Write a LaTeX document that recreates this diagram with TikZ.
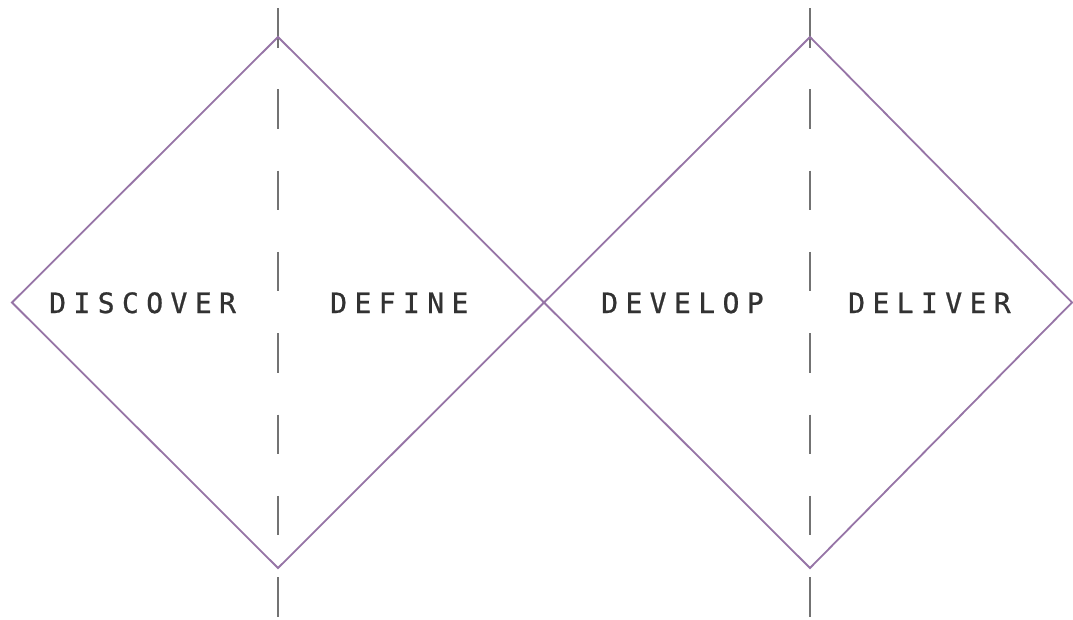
\documentclass[tikz,border=0pt]{standalone}
\usepackage{fontspec}
\newfontfamily\labelfont[LetterSpace=26.5,FakeBold=0.8]{DejaVu Sans Mono}
\definecolor{diamondpurple}{RGB}{150,116,166}
\definecolor{axisgray}{RGB}{115,115,115}
\definecolor{textgray}{RGB}{50,50,50}
\begin{document}
\begin{tikzpicture}[x=1pt,y=-1pt,
  diamondline/.style={draw=diamondpurple,line width=1.8pt,line join=miter},
  axisline/.style={draw=axisgray,line width=2.3pt,dash pattern=on 39.5pt off 41.8pt},
  phaselabel/.style={anchor=base west,inner sep=0pt,text=textgray,font=\labelfont\fontsize{28}{30}\selectfont}]
\useasboundingbox[fill=white] (0,0) rectangle (1073,619);
% diamond 1
\coordinate (d1l) at (12,302.5);
\coordinate (d1t) at (278,37);
\coordinate (d1b) at (278,568);
\coordinate (mid) at (544,302.5);
% diamond 2
\coordinate (d2t) at (810,37);
\coordinate (d2b) at (810,568);
\coordinate (d2r) at (1072,302.5);
% axes
\coordinate (a1top) at (278,8);
\coordinate (a1bot) at (278,619);
\coordinate (a2top) at (810,8);
\coordinate (a2bot) at (810,619);
\draw[axisline] (a1top) -- (a1bot);
\draw[axisline] (a2top) -- (a2bot);
\draw[diamondline] (d1l) -- (d1t) -- (mid) -- (d1b) -- cycle;
\draw[diamondline] (mid) -- (d2t) -- (d2r) -- (d2b) -- cycle;
\node[phaselabel] (discover) at (49,313) {DISCOVER};
\node[phaselabel] (define) at (330,313) {DEFINE};
\node[phaselabel] (develop) at (601,313) {DEVELOP};
\node[phaselabel] (deliver) at (848,313) {DELIVER};
\end{tikzpicture}
\end{document}
